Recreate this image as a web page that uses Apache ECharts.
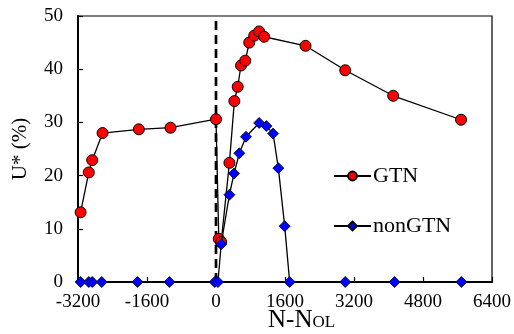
<!DOCTYPE html>
<html>
<head>
<meta charset="utf-8">
<script src="https://cdn.jsdelivr.net/npm/echarts@6/dist/echarts.min.js"></script>
<style>html,body{margin:0;padding:0;background:#fff}#c{width:514px;height:334px}</style>
</head>
<body>
<div id="c"></div>
<script>
// Data
var gtnX = [-3140, -2950, -2870, -2630, -1790, -1055, 0, 65, 120, 311, 426, 503, 580, 679, 771, 886, 1001, 1116, 2076, 2997, 4109, 5682];
var gtnY = [13.1, 20.6, 22.9, 28.0, 28.7, 29.0, 30.6, 8.1, 7.5, 22.4, 34.0, 36.7, 40.7, 41.6, 45.0, 46.3, 47.1, 46.1, 44.4, 39.8, 35.0, 30.5];
var nonX = [-3140, -2950, -2870, -2650, -1820, -1080, -30, 45, 120, 311, 419, 541, 695, 1001, 1170, 1324, 1446, 1593, 1708, 2997, 4140, 5690];
var nonY = [0, 0, 0, 0, 0, 0, 0, 0, 7.1, 16.4, 20.4, 24.2, 27.3, 29.9, 29.3, 27.9, 21.4, 10.5, 0, 0, 0, 0];
var refLineX = [0, 0];
var refLineY = [0, 50];
var xTicks = [-3200, -1600, 0, 1600, 3200, 4800, 6400];
var yTicks = [0, 10, 20, 30, 40, 50];
var seriesNames = ['GTN', 'nonGTN'];

function pairs(xs, ys) { return xs.map(function (x, i) { return [x, ys[i]]; }); }

var font = 'Liberation Serif';
var chart = echarts.init(document.getElementById('c'), null, {renderer: 'canvas'});
chart.setOption({
  animation: false,
  backgroundColor: '#fff',
  textStyle: {fontFamily: font, color: '#000'},
  grid: {left: 78, right: 19, top: 16, bottom: 52, show: true, borderColor: '#000', borderWidth: 1.2, containLabel: false},
  legend: {
    orient: 'vertical', left: 328, top: 160, itemGap: 28, itemWidth: 37, itemHeight: 11,
    textStyle: {fontFamily: font, fontSize: 22, color: '#000', padding: [0, 0, 0, -3]},
    data: seriesNames
  },
  xAxis: {
    type: 'value', min: xTicks[0], max: xTicks[xTicks.length - 1], interval: 1600,
    axisLine: {onZero: false, lineStyle: {color: '#000', width: 2}},
    axisTick: {inside: true, length: 5, lineStyle: {color: '#000', width: 1.2}},
    axisLabel: {fontFamily: font, fontSize: 19, color: '#000', margin: 11, showMinLabel: true, showMaxLabel: true,
      formatter: function (v) { return String(v); }},
    splitLine: {show: false}
  },
  yAxis: {
    type: 'value', min: yTicks[0], max: yTicks[yTicks.length - 1], interval: 10,
    name: 'U* (%)', nameLocation: 'middle', nameRotate: 90, nameGap: 47,
    nameTextStyle: {fontFamily: font, fontSize: 21, color: '#000'},
    axisLine: {onZero: false, lineStyle: {color: '#000', width: 2}},
    axisTick: {inside: true, length: 5, lineStyle: {color: '#000', width: 1.2}},
    axisLabel: {fontFamily: font, fontSize: 19, color: '#000', margin: 15, formatter: function (v) { return String(v); }},
    splitLine: {show: false}
  },
  graphic: [{
    type: 'text', left: 268, top: 308,
    style: {
      text: '{a|N-N}{b|OL}',
      rich: {
        a: {fontFamily: font, fontSize: 25, lineHeight: 25, fill: '#000', verticalAlign: 'bottom'},
        b: {fontFamily: font, fontSize: 17, lineHeight: 17, fill: '#000', verticalAlign: 'bottom', padding: [0, 0, 2, 0]}
      }
    }
  }],
  series: [
    {
      name: 'ref', type: 'line', data: pairs(refLineX, refLineY), clip: false,
      symbol: 'none', silent: true,
      lineStyle: {color: '#000', width: 2.7, type: [9, 5]},
      z: 2
    },
    {
      name: seriesNames[0], type: 'line', data: pairs(gtnX, gtnY), clip: false,
      symbol: 'circle', symbolSize: 11,
      itemStyle: {color: '#ff0000', borderColor: '#000', borderWidth: 1},
      lineStyle: {color: '#000', width: 1.3},
      z: 3
    },
    {
      name: seriesNames[1], type: 'line', data: pairs(nonX, nonY), clip: false,
      symbol: 'diamond', symbolSize: 11,
      itemStyle: {color: '#0000ff', borderColor: '#000', borderWidth: 0.8},
      lineStyle: {color: '#000', width: 1.3},
      z: 4
    }
  ]
});
</script>
</body>
</html>
